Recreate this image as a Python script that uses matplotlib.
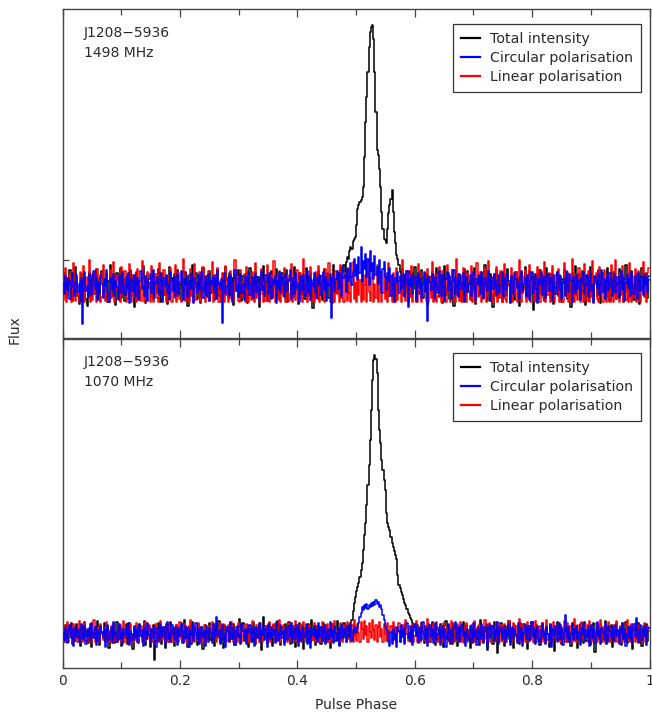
import numpy as np
import matplotlib
matplotlib.use("Agg")
import matplotlib.pyplot as plt
from matplotlib.lines import Line2D

# ---------------- data (arbitrary flux units, 512 phase bins) ----------------
phase_ticks = [0, 0.2, 0.4, 0.6, 0.8, 1]
phase_tick_labels = ["0", "0.2", "0.4", "0.6", "0.8", "1"]

source = "J1208\u22125936"
freq_top = "1498 MHz"
freq_bot = "1070 MHz"
series_names = ["Total intensity", "Circular polarisation", "Linear polarisation"]
series_colors = ["black", "blue", "red"]

top_total = [
    6, 14, -3, -11, 9, 2, 17, -6, -14, -2, 11, 20, 4, -9, -17, 7, 13, 1, -5, 10, -12, -19, 3, 15, 8, -4, 12, -7, 0, 18, -10, 5,
    -13, 9, 16, 3, -8, -1, 12, -15, 6, 22, -3, -9, 10, 1, -18, 14, 7, -5, 19, -11, 2, 8, -14, -6, 13, 4, -2, 17, -9, 11, -20, 3,
    15, -7, 6, -12, 0, 9, 21, -4, -16, 8, 12, -1, 5, -10, 16, -13, 2, 10, -6, 18, -3, -15, 7, 14, -8, 1, 11, -17, 4, 20, -5, 9,
    -2, 13, -11, 6, 17, -9, 3, -14, 10, 1, -6, 15, 8, -19, 12, -3, 5, 22, -8, -1, 14, -12, 7, 2, -16, 9, 19, -5, 0, 11, -10, 4,
    16, -6, 8, 3, -13, 12, -2, 18, -9, 5, -15, 10, 1, -4, 20, 7, -11, 14, -7, 2, 9, -18, 13, -1, 6, 17, -10, 3, -14, 11, 0, -5,
    12, -16, 4, 19, -3, 8, -12, 1, 15, -8, 10, -20, 6, 13, -2, 21, -9, 5, -14, 11, 3, -6, 16, -11, 7, 0, 18, -4, 9, -13, 2, 14,
    -7, 10, -1, 17, -15, 6, 12, -5, 3, -10, 20, 8, -3, -17, 14, 1, -8, 11, 5, -12, 19, -2, 7, -9, 15, 4, -21, 9, 13, -6, 2, 16,
    -4, 11, -13, 7, 18, -8, 3, 14, -11, 0, 9, -16, 22, 5, -6, 12, 12, -3, 18, 6, 15, 22, 9, 25, 30, 28, 36, 40, 38, 46, 48, 50,
    62, 78, 82, 85, 87, 90, 100, 130, 165, 190, 215, 240, 255, 260, 262, 248, 215, 175, 137, 132, 118, 100, 75, 58, 48, 47, 44, 58, 74, 82, 88, 97,
    75, 55, 44, 32, 28, 22, 15, 10, 18, 2, 12, -5, 8, -12, 16, 3, -9, 14, -2, 20, -15, 6, 11, -7, 1, 17, -11, 9, -4, 13, -18, 5,
    10, -6, 15, 2, -13, 8, 19, -3, -10, 12, 4, -16, 7, 21, -8, 1, 14, -12, 6, -2, 17, -19, 9, 3, -7, 13, -1, 11, -14, 5, 18, -9,
    2, 16, -5, -12, 10, 7, -3, 19, -17, 4, 12, -8, 0, 15, -11, 6, 22, -4, -14, 9, 1, 13, -7, -20, 11, 3, 17, -10, 5, -2, 14, -15,
    8, -1, 12, -9, 18, 3, -16, 6, 11, -5, -13, 15, 2, 9, -19, 7, 14, -6, 0, 20, -11, 4, -3, 16, -8, 10, -23, 5, 13, -2, 8, -12,
    17, -7, 3, 11, -14, 6, 19, -4, 1, -10, 13, 9, -17, 5, -1, 15, -9, 12, 2, -15, 8, 18, -6, 0, -12, 10, 4, -20, 14, 7, -3, 21,
    -8, 5, 13, -11, 2, 16, -5, 9, -18, 12, 1, -7, 20, -2, 6, -13, 11, 4, -9, 17, -1, -16, 8, 14, -4, 3, -10, 19, 7, -14, 10, -6,
    15, -3, 9, -12, 4, 18, -8, 1, 12, -15, 6, 22, -5, 11, -10, 2, 16, -7, -13, 8, 13, -1, 5, -17, 10, 19, -4, 3, -9, 14, -11, 7,
]
top_circular = [
    4, -7, 11, 2, -3, 8, -12, 6, 14, -1, -9, 5, 12, -5, 3, -14, 9, -37, 7, 15, -4, 1, -10, 13, 6, -8, 2, 16, -2, 10, -13, 5,
    -6, 12, 3, -11, 8, 1, 17, -5, -15, 9, 4, -3, 13, -9, 6, 0, -12, 11, 7, -6, 15, 2, -8, 10, -1, 14, -16, 5, 8, -4, 12, -10,
    3, 9, -13, 6, 16, -2, 1, -9, 11, 5, -14, 8, 13, -6, 2, 17, -11, 4, 10, -3, -8, 14, 6, -15, 9, 1, 12, -5, 3, -12, 15, 7,
    -4, 10, -9, 2, 13, -7, 5, 16, -1, -13, 8, 3, 11, -10, 6, -2, 14, 1, -16, 9, 4, -6, 12, -3, 7, 15, -11, 0, 10, -8, 5, 13,
    -14, 6, 2, 11, -5, 9, -12, 16, 3, -2, 8, -36, 5, 14, -7, 1, 10, -9, 12, 4, -15, 7, 17, -4, 2, -10, 9, 13, -6, 3, -13, 11,
    6, -1, 15, -8, 4, 10, -11, 2, 13, -5, 7, -14, 9, 16, -3, 1, -9, 12, 5, -7, 14, 0, -12, 8, 3, 11, -16, 6, -2, 15, -6, 10,
    2, -10, 13, 5, -4, 8, 17, -12, 1, 9, -7, 14, -1, 4, -15, 11, 6, -3, 12, -9, 3, 16, -6, 10, -13, 7, 1, 14, -5, -11, 9, 2,
    12, -8, 5, 15, -3, 10, -14, 7, 1, 13, -31, 6, 11, -4, 8, 16, -2, 14, 4, -9, 20, 9, 12, -5, 18, 6, 10, 24, 2, 15, 28, 11,
    22, 8, 30, 14, 40, 5, 26, 18, 33, 10, 28, 2, 36, 16, 24, 8, 31, 12, 20, 3, 27, 15, -6, 18, 25, 10, -3, 14, 6, 19, -9, 12,
    2, -15, 9, 5, 15, -6, 11, -2, 7, 13, -10, 3, 16, -20, 8, 1, 12, -7, 4, 10, -13, 6, 14, -1, 9, -11, 3, 15, -5, 8, -34, 11,
    5, -3, 13, 7, -11, 10, 2, -6, 16, 4, -9, 12, 0, -14, 8, 15, -4, 11, 3, -12, 6, 17, -7, 1, 9, -10, 13, 5, -2, 14, -15, 7,
    10, -5, 3, 12, -9, 6, 15, -1, -13, 8, 2, 11, -7, 14, 4, -11, 9, 1, -4, 16, 6, -14, 10, -2, 13, 3, -8, 7, 12, -6, 1, 15,
    -10, 9, 4, -3, 13, 6, -15, 11, 2, -7, 14, 8, -1, 5, -12, 10, 16, -4, 3, 9, -9, 12, 1, -13, 7, 15, -6, 4, 11, -2, -16, 8,
    3, 14, -8, 6, 10, -11, 2, 13, -4, 9, 5, -14, 12, 0, -7, 15, 7, -3, 11, -12, 4, 8, -9, 16, 1, -5, 13, 6, -15, 10, 2, -6,
    12, -2, 7, -13, 9, 4, 15, -7, 1, 11, -10, 6, 14, -4, 3, -16, 10, 5, -1, 13, -8, 2, 17, -5, 8, -12, 6, 11, -3, 14, 0, -9,
    7, 13, -6, 2, 10, -11, 5, 16, -3, 9, -14, 4, 12, -1, 8, -9, 15, 3, -7, 11, 1, -12, 14, 6, -4, 10, -8, 13, 2, 9, -5, 11,
]
top_linear = [
    -13, 6, 19, -15, -8, 3, 12, -15, -11, 24, 1, -14, 9, -6, -15, 15, 4, -12, 21, -15, -3, 10, -9, 27, -15, 5, -13, 14, -7, -15, 18, -2,
    8, -15, -10, 22, 2, -14, 13, -6, -15, 17, -11, 4, 25, -15, -4, 11, -13, 7, -15, 20, -8, 1, 16, -15, -12, 9, 23, -5, -15, 12, -10, 3,
    -15, 18, -7, 6, -14, 26, -1, -15, 10, -12, 15, 2, -15, 21, -9, -15, 8, 13, -11, -15, 24, -3, 5, -14, 17, -8, -15, 11, 0, -13, 19, -15,
    7, -10, 22, -15, 3, 14, -12, -15, 9, 28, -6, -14, 12, 1, -15, 18, -9, 4, -15, 23, -13, 8, -2, 15, -15, -11, 20, 6, -15, 10, -7, 16,
    -14, 2, 25, -15, -5, 12, -10, 19, -15, 6, -13, 14, 3, -15, 21, -8, -15, 9, 16, -12, 1, -15, 27, -4, 11, -14, -15, 17, 5, -9, 13, -15,
    20, -6, -15, 8, -13, 15, 2, -15, 24, -11, 4, -15, 11, 18, -7, -15, 6, -14, 22, 0, -15, 13, -10, 7, 26, -15, -3, 10, -12, 16, -15, 5,
    -9, 19, -15, 3, 12, -14, -6, 23, -15, 9, 1, -13, 17, -15, 7, 14, -11, -15, 28, -5, 4, -15, 11, -8, 20, -14, 2, -15, 15, 6, -12, 21,
    -15, 8, -4, 13, -15, 18, -10, 1, 24, -15, 6, -13, 11, -15, 16, -7, 3, -15, 22, -11, 9, -15, 14, 0, -14, 19, -6, -15, 10, 25, -12, 4,
    -15, 15, -8, 7, -15, 20, -13, 2, 12, -15, 26, -5, -14, 9, 17, -15, 3, -11, 22, -15, 8, 13, -15, -6, 18, -12, 5, -15, 24, -9, 11, -15,
    14, -4, -15, 19, -13, 6, 10, -15, 27, -8, 1, -14, 16, -15, 12, -10, 21, -15, 4, 8, -12, -15, 23, -3, 15, -15, -7, 11, 2, -14, 18, -15,
    9, -11, 25, -15, 3, 13, -15, -9, 20, 5, -15, 16, -13, 7, -15, 22, -5, 10, -15, 1, 17, -12, -15, 28, -8, 4, -14, 12, -15, 19, 0, -10,
    -15, 14, 6, -13, 21, -15, -4, 11, -15, 24, -10, 2, 15, -15, 8, -12, 18, -15, -6, 26, 3, -14, 10, -15, 13, -9, 20, -15, 5, -11, 16, -15,
    7, 23, -12, -15, 12, 1, -14, 19, -15, 9, -7, 15, -15, 4, 27, -13, -15, 11, -3, 17, -15, 6, -10, 22, -15, 13, 0, -14, 8, -15, 20, -6,
    -15, 16, 3, -11, 25, -15, 9, -8, 14, -15, 2, 21, -13, -15, 12, -5, 18, -15, 7, -12, -15, 24, 4, -9, 15, -15, 10, -14, 28, -2, -15, 13,
    5, -13, 19, -15, 11, -7, -15, 23, 1, -14, 16, -15, 8, -10, 26, -15, 3, 14, -12, -15, 20, -4, 9, -15, 17, -11, -15, 12, 6, -15, 22, -8,
    -15, 10, 27, -12, 2, -15, 15, -6, 21, -15, 7, -13, 13, -15, 24, -3, -15, 11, -9, 18, -15, 4, 16, -14, -15, 9, 25, -10, 1, -15, 14, 19,
]

bot_total = [
    4, -7, 10, 1, -4, 8, -2, 12, -9, 5, 0, -6, 11, -3, 7, -11, 2, 9, -5, 13, -1, 6, -8, 3, 11, -12, 5, -2, 8, -6, 14, 0,
    -10, 6, 3, -4, 12, -7, 1, 9, -13, 4, 7, -2, 10, -8, 2, 13, -5, 0, 8, -11, 6, 3, -3, 11, -9, 5, 12, -6, 1, -14, 7, 4,
    9, -3, -8, 11, 2, -5, 7, 14, -10, 3, 0, 8, -12, 6, -1, 10, -25, -6, 4, 12, -4, 9, -9, 2, 7, -13, 11, 1, -7, 5, 13, -2,
    6, -11, 3, 10, -6, 8, -1, 12, -8, 4, 15, -4, 1, -12, 9, 5, -9, 13, -3, 7, 0, -10, 11, 2, -6, 8, -14, 6, 10, -2, 3, -7,
    12, -5, 7, 1, -11, 9, 4, -3, 14, -8, 2, 6, -13, 10, -1, 5, 8, -7, 13, -4, 0, 11, -10, 3, 7, -2, 16, -9, 4, 12, -6, 1,
    -4, 10, -12, 6, 3, -7, 13, 1, -9, 8, -2, 11, 5, -15, 7, 18, -3, 9, -8, 2, 12, -5, 4, -11, 10, 0, -6, 14, -1, 6, -10, 8,
    3, -7, 11, -2, 6, 13, -9, 1, -4, 9, 5, -12, 8, -1, 12, -6, 2, 10, -14, 7, -3, 4, 11, -8, 1, 15, -5, 6, -10, 9, 3, -2,
    8, -9, 5, 12, -4, 0, 10, -7, 6, -13, 3, 11, -2, 8, -6, 14, 1, -10, 7, 4, -5, 12, -3, 9, 4, 10, 6, 12, 15, 24, 32, 38,
    44, 48, 52, 58, 65, 72, 85, 100, 112, 130, 150, 170, 195, 225, 255, 275, 280, 276, 262, 225, 205, 192, 175, 165, 155, 145, 122, 112, 108, 105, 98, 92,
    88, 84, 80, 76, 60, 50, 47, 43, 40, 36, 32, 30, 26, 22, 20, 17, 15, 12, 10, 8, 4, 10, -2, 7, -5, 12, 3, -8, 9, 1, -4, 11,
    -7, 6, 13, -3, 2, -10, 8, 5, -6, 11, -1, 4, -12, 9, 14, -4, 0, 7, -9, 3, 12, -6, 10, -2, -11, 6, 1, 9, -5, 13, -8, 2,
    10, -3, 5, -13, 8, 1, -7, 12, 4, -4, 9, -10, 15, -1, 6, -8, 3, 11, -15, 7, -2, 10, 2, -9, 13, -5, 4, -18, 8, 0, 12, -6,
    5, -11, 9, 2, -4, 14, -7, 6, 1, -13, 10, 3, -2, 8, -9, 12, 4, -6, 11, -1, 7, -14, 2, 9, -5, 13, 0, -8, 6, 10, -3, 5,
    -10, 7, 12, -4, 3, -8, 9, 1, -12, 11, 5, -2, 8, -16, 4, 13, -6, 2, 10, -9, 6, -3, 14, 0, -7, 9, 3, -11, 12, -1, 5, -5,
    8, -13, 4, 11, -2, 6, -8, 13, 1, -6, 10, 3, -10, 7, -3, 12, -17, 5, 9, -4, 2, 11, -7, 6, -1, 14, -9, 3, 8, -5, 10, -12,
    2, 9, -6, 12, 4, -3, 7, -10, 11, 0, -5, 13, -8, 6, 3, -2, 10, -14, 5, 8, -4, 1, 12, -7, 6, -11, 9, 3, -1, 11, -6, 7,
]
bot_circular = [
    2, -5, 7, 0, -8, 4, 10, -3, 6, -11, 1, 8, -2, 5, -7, 3, 11, -4, 0, 9, -9, 4, -1, 7, -6, 12, 2, -3, 8, -10, 5, 1,
    -6, 9, 3, -2, 6, -12, 4, 10, -5, 1, 7, -8, 13, -1, 3, -7, 5, 11, -4, 2, -9, 6, 0, 8, -3, 12, -10, 4, 1, -5, 9, -2,
    6, -7, 3, 10, -1, 5, -11, 8, 2, -4, 12, 0, -8, 6, 4, -3, 9, -12, 7, 1, -6, 11, 3, -2, 8, -9, 5, 13, -4, 2, -7, 10,
    1, -5, 8, 3, -10, 6, -1, 11, 4, -8, 2, 9, -3, 7, -12, 5, 0, 10, -6, 3, 12, -4, 6, -9, 1, 8, -2, 4, -11, 9, 3, -5,
    7, 2, -8, 11, -3, 5, 18, -1, 4, -9, 6, 10, -5, 2, -12, 8, 3, -6, 12, 0, -4, 7, -10, 5, 9, -2, 1, -7, 11, 4, -3, 6,
    -9, 5, 2, 10, -6, 3, 8, -11, 1, 7, -3, 12, -7, 4, 0, 9, -5, 6, -12, 11, 2, -4, 8, -1, 5, -8, 13, 3, -6, 1, 10, -3,
    4, -10, 7, 2, -5, 9, -1, 12, -8, 3, 6, -4, 10, -11, 5, 1, -6, 8, 3, -2, 11, -9, 4, 7, -13, 6, 0, 9, -3, 5, -7, 12,
    -2, 8, -6, 4, 10, -9, 1, 6, -4, 13, -1, 5, -8, 9, 2, -5, 7, -11, 3, 10, -3, 6, 0, -7, 9, 4, -2, 11, -6, 5, 8, 2,
    3, 8, 12, 18, 22, 28, 25, 30, 27, 31, 26, 30, 28, 32, 29, 33, 30, 35, 31, 33, 28, 30, 26, 20, 15, 9, 5, 2, -6, -11, 3, -9,
    6, -4, 1, -12, 8, 4, -7, 10, -2, 5, -9, 7, 12, -3, 2, -6, 9, -10, 4, 11, -1, 6, -8, 3, 8, -5, 13, 0, -4, 7, -11, 5,
    10, -2, 6, -8, 3, 12, -5, 1, 8, -10, 4, 9, -3, 6, -12, 2, 11, -6, 5, 0, -9, 7, 13, -4, 2, 8, -7, 4, 10, -1, 3, -11,
    6, 1, -5, 9, 3, -8, 12, -2, 5, -10, 7, 2, -4, 11, 0, -7, 8, 4, -12, 6, 10, -3, 1, 9, -6, 5, -1, 13, -9, 3, 7, -4,
    2, 9, -7, 5, -1, 11, -10, 4, 8, -3, 6, 0, -8, 12, 3, -5, 7, -11, 2, 10, -4, 5, 9, -6, 1, 13, -2, 6, -9, 4, 8, -3,
    -7, 5, 11, -2, 3, -9, 8, 1, -5, 10, -12, 6, 4, -1, 9, -6, 2, 12, -4, 7, -10, 3, 20, 5, -3, 8, -7, 1, 11, -5, 6, 2,
    9, -4, 3, -10, 7, 1, 12, -6, 5, -2, 8, -11, 4, 10, -3, 6, -8, 2, 13, -1, 5, -9, 7, 3, -5, 11, 0, -7, 9, 4, -2, 8,
    -6, 3, 10, -1, 5, -9, 7, 2, 12, -4, 6, -11, 1, 8, -3, 9, -7, 4, 11, -2, 17, 5, -8, 3, 10, -5, 6, -1, 9, -10, 4, 7,
]
bot_linear = [
    -4, 9, -7, 2, 13, -7, -1, 7, -7, 11, 0, -5, 5, -7, 14, -2, 8, -7, 3, 12, -6, -7, 6, 0, 10, -7, 4, 15, -7, 1, -3, 8,
    -7, 11, 1, -5, 7, -7, 13, -1, 4, -7, 9, -3, -7, 12, 2, -7, 6, -4, 10, -7, 0, 14, -7, 5, -2, 8, -7, 11, 1, -7, 7, -5,
    12, -7, 3, -1, 9, -7, 6, -7, 13, 0, -4, 10, -7, 4, -7, 8, -2, 11, -7, 5, -7, 14, 1, -5, 8, -7, 2, 12, -7, -1, 9, -7,
    7, -3, -7, 10, 1, -7, 13, -4, 5, -7, 11, 0, -7, 8, -1, 15, -7, 4, 9, -7, 2, -5, 12, -7, 6, 0, -7, 10, -3, 7, -7, 3,
    9, 1, 13, -2, 11, 4, -7, -3, 7, 12, -1, 5, 11, -7, 3, -6, 10, -7, 5, 13, -4, -7, 8, 1, -7, 12, -2, 6, -7, 9, -1, -5,
    11, -7, 3, -7, 8, 14, -3, 0, -7, 10, 5, -7, 12, -1, -7, 7, -4, 9, -7, 2, 13, -7, 6, -2, 11, -7, 4, -5, 8, 15, -7, 1,
    10, -7, -2, 7, -7, 12, 0, -7, 9, 3, -4, 14, -7, 5, -1, 11, -7, 6, 13, -3, -7, 8, -1, 10, -7, 2, -5, 12, -7, 4, 9, -6,
    -7, 6, 13, -3, -7, 8, 0, 11, -7, 2, -5, 10, -7, 14, 4, -2, 7, -7, 12, -1, -7, 9, 5, -7, 13, -4, 1, -7, 10, -7, 15, 0,
    -6, 11, 2, -7, 13, 6, -4, 14, 0, 9, -7, 12, 3, -3, 15, 5, -5, 10, -7, 8, 13, -2, 6, -7, 11, 1, -6, 12, -7, 4, 9, -7,
    13, -5, 8, -7, 2, 12, -7, 6, -2, 10, -7, 15, 1, -6, 9, -7, 4, 11, -7, -1, 14, -7, 7, 0, -7, 12, 3, -5, 9, -7, 16, -2,
    -7, 8, -4, 11, -7, 5, 13, -7, 1, 9, -7, -2, 12, -7, 6, 0, 10, -7, 3, 14, -5, -7, 7, -1, 11, -7, 4, 13, -7, 2, -6, 9,
    12, -7, 5, -3, 10, -7, 1, 14, -7, 7, -1, 11, -7, 3, 8, -7, 15, -4, -7, 6, 12, -7, 2, 9, -7, 0, 13, -5, 7, -7, 10, 4,
    -7, 11, 1, -7, 8, 14, -6, -7, 5, 12, -2, 9, -7, 3, 16, -7, 6, -3, 10, -7, 1, 13, -7, 4, -1, 11, -7, 7, 14, -7, 2, -4,
    9, -7, 12, 0, -7, 6, 15, -5, -7, 10, 3, -7, 13, -2, 7, -7, 11, 1, -7, 8, -4, 14, -7, 5, 12, -7, -1, 9, -7, 4, 16, -6,
    -7, 10, 3, -7, 13, -3, 7, -7, 11, 0, -7, 14, 5, -5, 9, -7, 2, 12, -7, 6, -1, 15, -7, 8, -7, 11, 3, -4, 13, -7, 7, 1,
    10, -7, 4, 14, -7, -2, 9, -7, 12, 5, -7, 1, 15, -6, 7, -7, 11, -3, 8, -7, 13, 2, -7, 10, -5, 6, -7, 12, 0, -7, 9, 4,
]

top_ylim = (-52, 278)
bot_ylim = (-33, 296)
top_ytick = [27]

# ---------------- figure ----------------
W, H = 652, 713
fig = plt.figure(figsize=(W / 100, H / 100), dpi=100)
plt.rcParams["font.family"] = ["DejaVu Sans"]
txt_col = "#2a2a2a"
frame_col = "#444444"

def px_axes(x0, y0, x1, y1):
    return fig.add_axes([x0 / W, 1 - y1 / H, (x1 - x0) / W, (y1 - y0) / H])

ax_top = px_axes(62.5, 9, 649.5, 338.5)
ax_bot = px_axes(62.5, 338.5, 649.5, 667.5)

def phase_of(vals):
    n = len(vals)
    return (np.arange(n) + 0.5) / n

panels = [
    (ax_top, [top_total, top_circular, top_linear], top_ylim, freq_top),
    (ax_bot, [bot_total, bot_circular, bot_linear], bot_ylim, freq_bot),
]

for ax, (tot, circ, lin), ylim, freq in panels:
    ax.plot(phase_of(tot), tot, color="black", lw=1.1, drawstyle="steps-mid", zorder=2)
    ax.plot(phase_of(lin), lin, color="red", lw=1.1, drawstyle="steps-mid", zorder=3)
    ax.plot(phase_of(circ), circ, color="blue", lw=1.1, drawstyle="steps-mid", zorder=4)
    ax.set_xlim(0, 1)
    ax.set_ylim(*ylim)
    for s in ax.spines.values():
        s.set_color(frame_col)
        s.set_linewidth(1.0)
    ax.set_xticks(phase_ticks)
    ax.set_xticks(np.arange(0.1, 1.0, 0.2), minor=True)
    ax.tick_params(axis="x", which="major", direction="in", top=True, bottom=True,
                   length=6, width=0.9, color=frame_col, labelsize=10,
                   labelcolor=txt_col, pad=5)
    ax.tick_params(axis="x", which="minor", direction="in", top=True, bottom=True,
                   length=4, width=0.9, color=frame_col)
    ax.text(21 / 587, 1 - 24 / 330, source, transform=ax.transAxes, fontsize=10,
            color=txt_col, va="center", ha="left")
    ax.text(21 / 587, 1 - 44 / 330, freq, transform=ax.transAxes, fontsize=10,
            color=txt_col, va="center", ha="left")
    handles = [Line2D([0], [0], color=c, lw=1.6) for c in series_colors]
    leg = ax.legend(handles, series_names, loc="upper right",
                    bbox_to_anchor=(0.9847, 0.955), borderaxespad=0,
                    fontsize=10.2, handlelength=1.4, handletextpad=0.65,
                    labelspacing=0.36, borderpad=0.55, fancybox=False,
                    framealpha=1)
    leg.set_zorder(10)
    leg.get_frame().set_edgecolor("#333333")
    leg.get_frame().set_linewidth(0.9)
    for t in leg.get_texts():
        t.set_color(txt_col)

ax_top.set_yticks(top_ytick)
ax_top.tick_params(axis="y", direction="in", length=4, width=0.9, color=frame_col,
                   labelleft=False)
ax_bot.set_yticks([])
ax_top.tick_params(axis="x", labelbottom=False)

ax_bot.set_xticklabels(phase_tick_labels)
ax_bot.set_xlabel("Pulse Phase", fontsize=10, color=txt_col, labelpad=7)

fig.text(15 / W, 1 - 330 / H, "Flux", rotation=90, fontsize=10, color=txt_col,
         ha="center", va="center")

fig.savefig("out.png", dpi=100)
